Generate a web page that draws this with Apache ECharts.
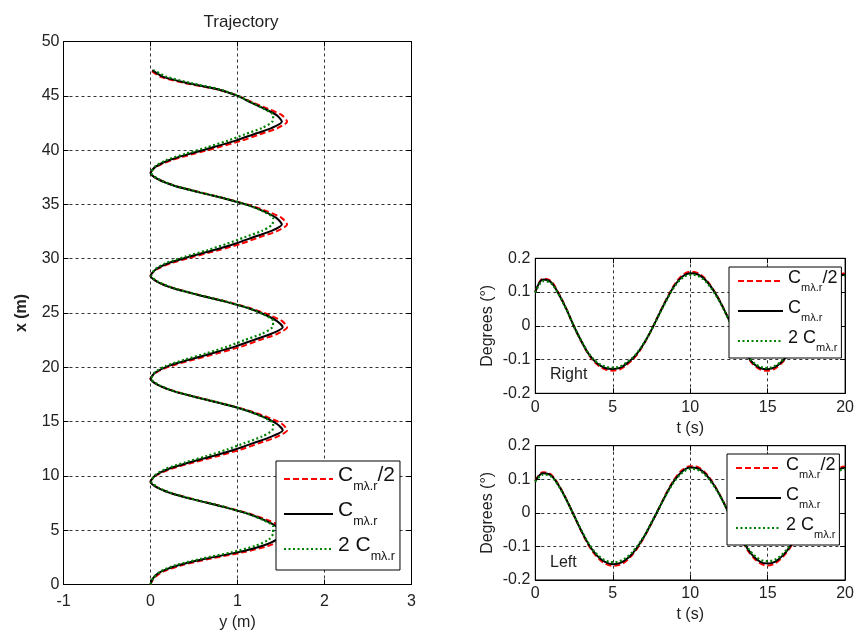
<!DOCTYPE html>
<html><head><meta charset="utf-8">
<script src="https://cdn.jsdelivr.net/npm/echarts@6/dist/echarts.min.js"></script>
<style>html,body{margin:0;padding:0;background:#fff}#c{width:857px;height:637px}</style>
</head><body><div id="c"></div>
<script>
const FONT = '"Liberation Sans", Arial, Helvetica, sans-serif';
const seriesNames = ['Cmλ.r/2', 'Cmλ.r', '2 Cmλ.r'];

// Trajectory: along-track position x (m) and lateral offset y (m)
const trajX = [0, 0.59, 1.18, 1.78, 2.37, 2.96, 3.55, 4.14, 4.74,
  5.33, 5.92, 6.51, 7.10, 7.70, 8.29, 8.88, 9.47,
  10.06, 10.66, 11.25, 11.84, 12.43, 13.02, 13.62, 14.21,
  14.80, 15.39, 15.98, 16.58, 17.17, 17.76, 18.35, 18.94,
  19.54, 20.13, 20.72, 21.31, 21.90, 22.50, 23.09, 23.68,
  24.27, 24.86, 25.46, 26.05, 26.64, 27.23, 27.82, 28.42,
  29.01, 29.60, 30.19, 30.78, 31.38, 31.97, 32.56, 33.15,
  33.74, 34.34, 34.93, 35.52, 36.11, 36.70, 37.30, 37.89,
  38.48, 39.07, 39.66, 40.26, 40.85, 41.44, 42.03, 42.62,
  43.22, 43.81, 44.40, 44.99, 45.58, 46.18, 46.77, 47.36];
const trajYHalf = [0, 0.04, 0.14, 0.36, 0.68, 1.06, 1.35, 1.52, 1.57,
  1.51, 1.35, 1.14, 0.87, 0.57, 0.29, 0.09, 0,
  0.07, 0.24, 0.50, 0.78, 1.04, 1.25, 1.46, 1.57,
  1.51, 1.35, 1.14, 0.87, 0.57, 0.29, 0.09, 0,
  0.07, 0.24, 0.50, 0.78, 1.04, 1.25, 1.46, 1.57,
  1.51, 1.35, 1.14, 0.87, 0.57, 0.29, 0.09, 0,
  0.07, 0.24, 0.50, 0.78, 1.04, 1.25, 1.46, 1.57,
  1.51, 1.35, 1.14, 0.87, 0.57, 0.29, 0.09, 0,
  0.07, 0.24, 0.50, 0.78, 1.04, 1.25, 1.46, 1.57,
  1.51, 1.35, 1.17, 1.01, 0.77, 0.39, 0.11, 0];
const trajYNominal = [0, 0.03, 0.12, 0.32, 0.63, 1.00, 1.28, 1.45, 1.52,
  1.45, 1.31, 1.12, 0.86, 0.56, 0.28, 0.09, 0,
  0.06, 0.21, 0.45, 0.72, 0.97, 1.18, 1.39, 1.52,
  1.45, 1.31, 1.12, 0.86, 0.56, 0.28, 0.09, 0,
  0.06, 0.21, 0.45, 0.72, 0.97, 1.18, 1.39, 1.52,
  1.45, 1.31, 1.12, 0.86, 0.56, 0.28, 0.09, 0,
  0.06, 0.21, 0.45, 0.72, 0.97, 1.18, 1.39, 1.51,
  1.45, 1.31, 1.12, 0.86, 0.56, 0.28, 0.09, 0,
  0.06, 0.21, 0.45, 0.72, 0.97, 1.18, 1.39, 1.51,
  1.45, 1.31, 1.15, 1.00, 0.78, 0.42, 0.14, 0.02];
const trajYDouble = [0, 0.03, 0.11, 0.29, 0.58, 0.93, 1.20, 1.36, 1.41,
  1.41, 1.30, 1.12, 0.87, 0.57, 0.29, 0.10, 0.01,
  0.05, 0.18, 0.40, 0.65, 0.88, 1.08, 1.28, 1.40,
  1.41, 1.30, 1.12, 0.87, 0.57, 0.29, 0.10, 0.01,
  0.05, 0.18, 0.40, 0.65, 0.88, 1.08, 1.28, 1.40,
  1.41, 1.30, 1.12, 0.87, 0.57, 0.29, 0.10, 0.01,
  0.05, 0.18, 0.40, 0.65, 0.88, 1.08, 1.28, 1.40,
  1.41, 1.30, 1.12, 0.87, 0.57, 0.29, 0.10, 0.01,
  0.05, 0.18, 0.40, 0.65, 0.88, 1.08, 1.28, 1.40,
  1.41, 1.30, 1.16, 1.01, 0.80, 0.46, 0.18, 0.04];

// Time histories (s) and angles (degrees)
const timeS = [0, 0.5, 1, 1.5, 2, 2.5, 3, 3.5, 4, 4.5, 5, 5.5, 6, 6.5, 7, 7.5, 8, 8.5, 9, 9.5, 10,
  10.5, 11, 11.5, 12, 12.5, 13, 13.5, 14, 14.5, 15, 15.5, 16, 16.5, 17, 17.5, 18, 18.5, 19, 19.5, 20];
const rightHalf = [0.100, 0.140, 0.133, 0.097, 0.051, -0.002, -0.049, -0.089, -0.115, -0.129, -0.133,
  -0.128, -0.112, -0.089, -0.055, -0.012, 0.036, 0.082, 0.123, 0.150, 0.160,
  0.156, 0.138, 0.107, 0.066, 0.018, -0.031, -0.077, -0.111, -0.129, -0.133,
  -0.126, -0.106, -0.077, -0.039, 0.005, 0.051, 0.094, 0.128, 0.149, 0.156];
const rightNominal = [0.100, 0.137, 0.130, 0.095, 0.050, -0.002, -0.048, -0.087, -0.112, -0.125, -0.128,
  -0.124, -0.108, -0.086, -0.053, -0.012, 0.035, 0.080, 0.120, 0.146, 0.156,
  0.152, 0.135, 0.105, 0.065, 0.018, -0.030, -0.075, -0.108, -0.125, -0.129,
  -0.122, -0.103, -0.075, -0.038, 0.005, 0.050, 0.092, 0.125, 0.145, 0.152];
const rightDouble = [0.098, 0.132, 0.127, 0.093, 0.049, -0.002, -0.047, -0.085, -0.109, -0.121, -0.124,
  -0.120, -0.105, -0.084, -0.052, -0.012, 0.034, 0.078, 0.117, 0.142, 0.151,
  0.148, 0.131, 0.102, 0.063, 0.017, -0.029, -0.073, -0.105, -0.121, -0.125,
  -0.118, -0.100, -0.073, -0.037, 0.005, 0.049, 0.089, 0.121, 0.141, 0.148];
const leftHalf = [0.096, 0.121, 0.115, 0.084, 0.041, -0.008, -0.058, -0.101, -0.132, -0.151, -0.158,
  -0.154, -0.138, -0.111, -0.075, -0.031, 0.015, 0.062, 0.101, 0.128, 0.139,
  0.136, 0.118, 0.087, 0.046, -0.002, -0.052, -0.096, -0.129, -0.150, -0.157,
  -0.150, -0.130, -0.100, -0.060, -0.013, 0.034, 0.077, 0.111, 0.132, 0.138];
const leftNominal = [0.095, 0.118, 0.112, 0.082, 0.040, -0.008, -0.056, -0.098, -0.128, -0.146, -0.153,
  -0.149, -0.134, -0.108, -0.073, -0.030, 0.015, 0.060, 0.098, 0.124, 0.135,
  0.132, 0.115, 0.085, 0.045, -0.002, -0.050, -0.093, -0.125, -0.145, -0.151,
  -0.145, -0.126, -0.097, -0.058, -0.013, 0.033, 0.075, 0.108, 0.128, 0.134];
const leftDouble = [0.093, 0.114, 0.109, 0.080, 0.039, -0.008, -0.054, -0.095, -0.124, -0.141, -0.147,
  -0.143, -0.129, -0.104, -0.071, -0.029, 0.015, 0.058, 0.095, 0.120, 0.131,
  0.128, 0.111, 0.082, 0.044, -0.002, -0.048, -0.090, -0.120, -0.139, -0.144,
  -0.139, -0.121, -0.094, -0.056, -0.013, 0.032, 0.072, 0.104, 0.124, 0.130];

// Tick values
const trajYTicks = [-1, 0, 1, 2, 3];
const trajXTicks = [0, 5, 10, 15, 20, 25, 30, 35, 40, 45, 50];
const timeTicks = [0, 5, 10, 15, 20];
const degTicks = [-0.2, -0.1, 0, 0.1, 0.2];

const lineStyles = [
  { color: '#ff0000', type: [6, 3], width: 2 },
  { color: '#000000', type: 'solid', width: 2 },
  { color: '#008000', type: [2, 2.5], width: 2.2 }
];

const txt = '#222';
const gridLine = { show: true, lineStyle: { color: '#333', type: [3, 3], width: 1 } };

function axisPair(ticks, gridIndex, isX, opts) {
  const base = {
    type: 'value', gridIndex: gridIndex,
    min: ticks[0], max: ticks[ticks.length - 1], interval: ticks[1] - ticks[0],
    axisLine: { show: true, onZero: false, lineStyle: { color: '#000', width: 1 } },
    axisTick: { show: true, inside: true, length: 5, lineStyle: { color: '#000' } }
  };
  const main = Object.assign({}, base, {
    position: isX ? 'bottom' : 'left',
    splitLine: gridLine,
    axisLabel: { color: txt, fontSize: 16, fontFamily: FONT, margin: opts.margin,
      formatter: v => String(Math.round(v * 1000) / 1000) },
    name: opts.name, nameLocation: 'middle', nameGap: opts.nameGap,
    nameTextStyle: { color: txt, fontSize: 16, fontFamily: FONT, fontWeight: opts.bold ? 'bold' : 'normal' }
  });
  const sec = Object.assign({}, base, {
    position: isX ? 'top' : 'right',
    splitLine: { show: false }, axisLabel: { show: false }
  });
  return [main, sec];
}

const xAxes = [].concat(
  axisPair(trajYTicks, 0, true, { name: 'y (m)', nameGap: 30, margin: 9 }),
  axisPair(timeTicks, 1, true, { name: 't (s)', nameGap: 27, margin: 6 }),
  axisPair(timeTicks, 2, true, { name: 't (s)', nameGap: 27, margin: 6 })
);
const yAxes = [].concat(
  axisPair(trajXTicks, 0, false, { name: 'x (m)', nameGap: 34, margin: 4, bold: true }),
  axisPair(degTicks, 1, false, { name: 'Degrees (°)', nameGap: 40, margin: 5 }),
  axisPair(degTicks, 2, false, { name: 'Degrees (°)', nameGap: 40, margin: 5 })
);

const series = [];
const trajSets = [trajYHalf, trajYNominal, trajYDouble];
trajSets.forEach((ys, k) => {
  series.push({ name: seriesNames[k], type: 'line', xAxisIndex: 0, yAxisIndex: 0,
    data: trajX.map((x, i) => [ys[i], x]), symbol: 'none', smooth: 0.25,
    lineStyle: lineStyles[k], itemStyle: { color: lineStyles[k].color } });
});
const rightSets = [rightHalf, rightNominal, rightDouble];
rightSets.forEach((vs, k) => {
  series.push({ name: seriesNames[k], type: 'line', xAxisIndex: 2, yAxisIndex: 2,
    data: timeS.map((t, i) => [t, vs[i]]), symbol: 'none', smooth: 0.35,
    lineStyle: lineStyles[k], itemStyle: { color: lineStyles[k].color } });
});
const leftSets = [leftHalf, leftNominal, leftDouble];
leftSets.forEach((vs, k) => {
  series.push({ name: seriesNames[k], type: 'line', xAxisIndex: 4, yAxisIndex: 4,
    data: timeS.map((t, i) => [t, vs[i]]), symbol: 'none', smooth: 0.35,
    lineStyle: lineStyles[k], itemStyle: { color: lineStyles[k].color } });
});

function legendFmt(name) {
  if (name === seriesNames[0]) return '{c|C}{s|mλ.r}{c|/2}';
  if (name === seriesNames[1]) return '{c|C}{s|mλ.r}';
  return '{c|2 C}{s|mλ.r}';
}
function makeLegend(left, top, big) {
  const cs = big ? 21 : 18, ss = big ? 12.5 : 11, drop = big ? 7 : 6;
  return {
    data: seriesNames, orient: 'vertical', left: left, top: top, z: 10,
    itemWidth: big ? 49 : 45, itemHeight: 14, itemGap: big ? 7 : 6,
    padding: big ? [4, 5, 7, 7] : [2, 4, 5, 8],
    backgroundColor: '#fff', borderColor: '#000', borderWidth: 1, borderRadius: 0,
    selectedMode: false, itemStyle: { opacity: 0 },
    formatter: legendFmt,
    textStyle: { color: '#111', fontFamily: FONT,
      rich: {
        c: { fontSize: cs, fontFamily: FONT, color: '#111', verticalAlign: 'top', padding: [0, 0, drop, 0] },
        s: { fontSize: ss, fontFamily: FONT, color: '#111', verticalAlign: 'bottom' }
      } }
  };
}

const option = {
  animation: false,
  backgroundColor: '#fff',
  title: { text: 'Trajectory', left: 236, top: 9, textAlign: 'center',
    textStyle: { fontSize: 17, fontWeight: 'normal', fontFamily: FONT, color: txt } },
  grid: [
    { left: 63.5, top: 41.5, width: 348, height: 543, show: true, borderColor: '#000', borderWidth: 1 },
    { left: 535.3, top: 258.3, width: 311.4, height: 135, show: true, borderColor: '#000', borderWidth: 1 },
    { left: 535.3, top: 445.7, width: 311.4, height: 134.3, show: true, borderColor: '#000', borderWidth: 1 }
  ],
  xAxis: xAxes,
  yAxis: yAxes,
  legend: [makeLegend(276, 461, true), makeLegend(729, 267, false), makeLegend(727, 454, false)],
  graphic: [
    { type: 'text', left: 550, top: 367, style: { text: 'Right', font: '16px ' + FONT, fill: txt } },
    { type: 'text', left: 550, top: 555, style: { text: 'Left', font: '16px ' + FONT, fill: txt } }
  ],
  series: series
};
const chart = echarts.init(document.getElementById('c'), null, { renderer: 'canvas' });
chart.setOption(option);
</script></body></html>
